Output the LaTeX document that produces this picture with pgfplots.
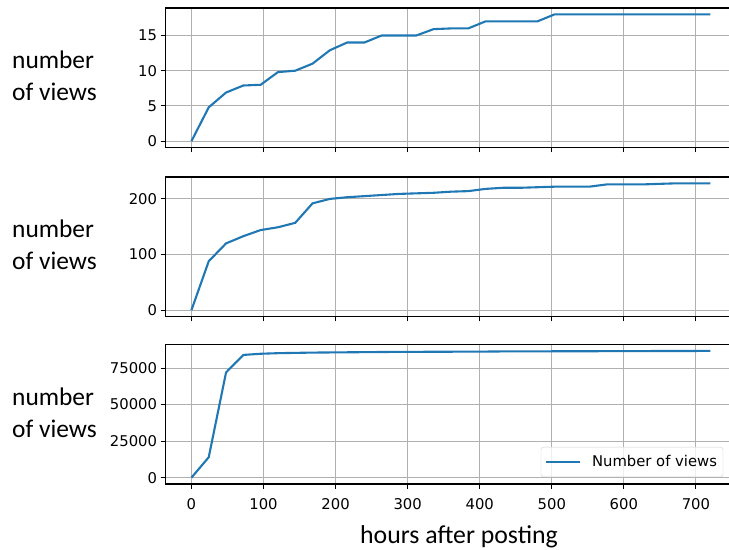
\documentclass[border=0pt]{standalone}
\usepackage{fontspec}
\setmainfont{DejaVu Sans}
\newfontfamily\labelfont{Carlito}
\usepackage{pgfplots}
\pgfplotsset{compat=1.18}
\definecolor{mplblue}{HTML}{1F77B4}
\definecolor{gridgray}{HTML}{B0B0B0}
\pgfplotsset{
  panel/.style={
    scale only axis, width=570.8bp, height=139.5bp,
    xmin=-36, xmax=756,
    xtick={0,100,...,700},
    grid=major, major grid style={gridgray, line width=1.1bp},
    axis line style={black, line width=1.1bp},
    every tick/.style={black, line width=1.1bp},
    tick align=outside, major tick length=4.9bp,
    tick pos=left,
    tick label style={font=\fontsize{14.8bp}{17bp}\selectfont},
    xticklabel style={yshift=-6.5bp},
    /pgf/number format/assume math mode=true,
    /pgf/number format/1000 sep={},
    scaled y ticks=false,
    clip=false,
  }
}
\begin{document}
\begin{tikzpicture}
% panel 1
\begin{axis}[panel, at={(165.5bp,402.5bp)}, anchor=south west,
  ymin=-0.9, ymax=18.9, ytick={0,5,10,15}, xticklabels={,,,,,,,}]
\addplot[mplblue, line width=2.1bp, no markers] coordinates {
(0,0)(24,4.8)(48,6.9)(72,7.9)(96,8.0)(120,9.8)(144,10.0)(168,11.0)(192,12.9)
(216,14.0)(240,14.0)(264,15.0)(288,15.0)(312,15.0)(336,15.9)(360,16.0)(384,16.0)
(408,17)(432,17)(456,17)(480,17)(504,18)(528,18)(552,18)(576,18)(600,18)(624,18)
(648,18)(672,18)(696,18)(720,18)};
\end{axis}
% panel 2
\begin{axis}[panel, at={(165.5bp,233.5bp)}, anchor=south west,
  ymin=-11.4, ymax=239.4, ytick={0,100,200}, xticklabels={,,,,,,,}]
\addplot[mplblue, line width=2.1bp, no markers] coordinates {
(0,0)(24,88)(48,120)(72,133)(96,144)(120,149)(144,157)(168,192)(192,200)
(216,203)(240,205)(264,207)(288,209)(312,210)(336,211)(360,213)(384,214)
(408,218)(432,220)(456,220)(480,221)(504,222)(528,222)(552,222)(576,226)(600,226)(624,226)
(648,227)(672,228)(696,228)(720,228)};
\end{axis}
% panel 3
\begin{axis}[panel, at={(165.5bp,66bp)}, anchor=south west,
  ymin=-4340, ymax=91140, ytick={0,25000,50000,75000},
  legend style={at={(0.977,0.05)}, anchor=south east, draw=gray!35,
    rounded corners=2.5bp, fill=white, fill opacity=0.8, text opacity=1,
    font=\fontsize{14.8bp}{17bp}\selectfont, inner xsep=4bp, inner ysep=6.5bp,
    column sep=9bp},
  legend cell align=left,
  legend image code/.code={\draw[#1] (0bp,0bp) -- (34bp,0bp);}]
\addplot[mplblue, line width=2.1bp, no markers] coordinates {
(0,0)(24,14000)(48,72000)(72,84000)(96,84800)(120,85200)(144,85400)(168,85600)(192,85700)
(216,85800)(240,85900)(264,86000)(288,86100)(312,86100)(336,86200)(360,86200)(384,86300)
(408,86300)(432,86400)(456,86400)(480,86400)(504,86500)(528,86500)(552,86500)(576,86600)(600,86600)(624,86600)
(648,86700)(672,86700)(696,86700)(720,86800)};
\addlegendentry{Number of views}
\end{axis}
\begin{scope}[every node/.style={inner sep=0pt}]
\node[anchor=west, align=left, font=\labelfont\fontsize{25.4bp}{31.6bp}\selectfont] at (12bp,474bp) {number\\of views};
\node[anchor=west, align=left, font=\labelfont\fontsize{25.4bp}{31.6bp}\selectfont] at (12bp,305bp) {number\\of views};
\node[anchor=west, align=left, font=\labelfont\fontsize{25.4bp}{31.6bp}\selectfont] at (12bp,137bp) {number\\of views};
\node[anchor=base, font=\labelfont\fontsize{25.8bp}{30bp}\selectfont] at (459bp,6.3bp) {hours after posting};
\end{scope}
\pgfresetboundingbox
\useasboundingbox (0bp,0bp) rectangle (729bp,550bp);
\end{tikzpicture}
\end{document}
